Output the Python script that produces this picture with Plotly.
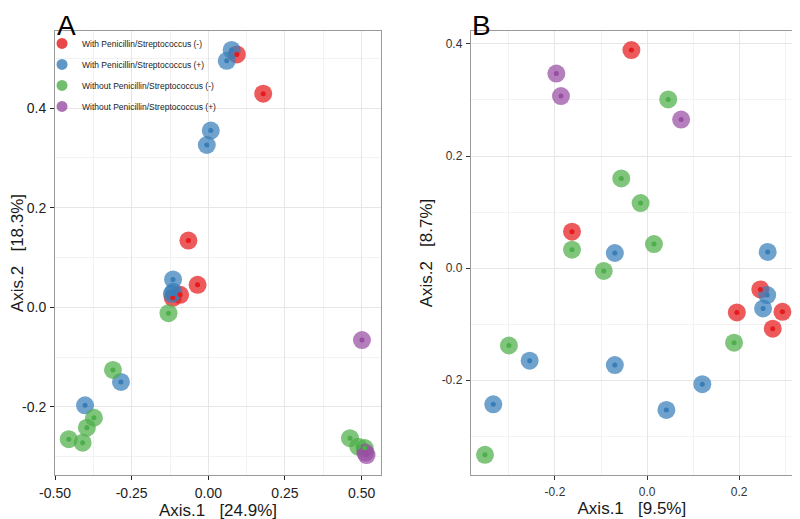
import plotly.graph_objects as go

groups = ["With Penicillin/Streptococcus (-)", "With Penicillin/Streptococcus (+)",
          "Without Penicillin/Streptococcus (-)", "Without Penicillin/Streptococcus (+)"]
colors = ["#E41A1C", "#377EB8", "#4DAF4A", "#984EA3"]

# Panel A (Axis.1 24.9%, Axis.2 18.3%)
a_red_x = [0.093, 0.179, -0.065, -0.035, -0.092, -0.116]
a_red_y = [0.508, 0.429, 0.134, 0.045, 0.025, 0.019]
a_blue_x = [0.076, 0.060, 0.008, -0.005, -0.115, -0.119, -0.114, -0.285, -0.402]
a_blue_y = [0.517, 0.495, 0.355, 0.326, 0.056, 0.027, 0.031, -0.150, -0.197]
a_green_x = [-0.130, -0.311, -0.373, -0.396, -0.455, -0.410, 0.462, 0.489, 0.510]
a_green_y = [-0.012, -0.126, -0.222, -0.242, -0.265, -0.272, -0.263, -0.280, -0.283]
a_purple_x = [0.501, 0.512, 0.516]
a_purple_y = [-0.066, -0.292, -0.297]

# Panel B (Axis.1 9.5%, Axis.2 8.7%)
b_red_x = [-0.034, -0.163, 0.246, 0.195, 0.294, 0.273]
b_red_y = [0.389, 0.065, -0.038, -0.079, -0.078, -0.108]
b_blue_x = [-0.070, 0.262, 0.261, 0.252, -0.255, -0.070, 0.120, -0.334, 0.042]
b_blue_y = [0.027, 0.029, -0.048, -0.072, -0.165, -0.173, -0.207, -0.243, -0.253]
b_green_x = [0.046, -0.056, -0.014, 0.015, -0.163, -0.094, -0.300, 0.189, -0.352]
b_green_y = [0.301, 0.160, 0.116, 0.043, 0.033, -0.005, -0.138, -0.133, -0.333]
b_purple_x = [-0.197, -0.187, 0.074]
b_purple_y = [0.347, 0.307, 0.265]

a_sets = [(a_red_x, a_red_y), (a_blue_x, a_blue_y), (a_green_x, a_green_y), (a_purple_x, a_purple_y)]
b_sets = [(b_red_x, b_red_y), (b_blue_x, b_blue_y), (b_green_x, b_green_y), (b_purple_x, b_purple_y)]

FONT = "Liberation Sans, Arial, sans-serif"
fig = go.Figure()

for sets, xa, ya in [(a_sets, "x", "y"), (b_sets, "x2", "y2")]:
    for (xs, ys), c, g in zip(sets, colors, groups):
        fig.add_trace(go.Scatter(x=xs, y=ys, mode="markers", xaxis=xa, yaxis=ya,
                                 marker=dict(size=18, color=c, opacity=0.72, line=dict(width=0)),
                                 showlegend=False, hoverinfo="skip"))
    for (xs, ys), c, g in zip(sets, colors, groups):
        fig.add_trace(go.Scatter(x=xs, y=ys, mode="markers", xaxis=xa, yaxis=ya,
                                 marker=dict(size=5, color=c, line=dict(width=0)),
                                 showlegend=False, name=g))

# legend entries
for c, g in zip(colors, groups):
    fig.add_trace(go.Scatter(x=[None], y=[None], mode="markers", name=g, legendgroup=g,
                             marker=dict(size=11, color=c, opacity=0.8), showlegend=True))

grid_major = "#e6e6e6"
grid_minor = "#f2f2f2"

def ax(domain, rng, tickvals, ticktext, minor_vals, fs, tickcol, title, anchor, standoff, tls):
    return dict(domain=domain, range=rng, tickmode="array", tickvals=tickvals, ticktext=ticktext,
                showgrid=True, gridcolor=grid_major, gridwidth=1, zeroline=False,
                showline=True, linecolor="#9a9a9a", linewidth=1, mirror=True,
                ticks="outside", ticklen=4, tickcolor=tickcol, tickwidth=1,
                ticklabelstandoff=tls,
                tickfont=dict(size=fs, color=tickcol, family=FONT),
                minor=dict(tickmode="array", tickvals=minor_vals, showgrid=True,
                           gridcolor=grid_minor, gridwidth=1, ticks=""),
                title=dict(text=title, font=dict(size=17, color="#1a1a1a", family=FONT), standoff=standoff),
                anchor=anchor, automargin=False)

fig.update_layout(
    width=800, height=519, margin=dict(l=47, r=15, t=23, b=52, autoexpand=False),
    paper_bgcolor="white", plot_bgcolor="white",
    font=dict(family=FONT),
    xaxis=ax([0.0, 0.4417], [-0.5, 0.563], [-0.5, -0.25, 0, 0.25, 0.5],
             ["-0.50", "-0.25", "0.00", "0.25", "0.50"], [-0.375, -0.125, 0.125, 0.375],
             14, "#222222", "Axis.1   [24.9%]", "y", 0, 1),
    yaxis=ax([0.0, 1.0], [-0.337, 0.555], [-0.2, 0, 0.2, 0.4],
             ["-0.2", "0.0", "0.2", "0.4"], [-0.3, -0.1, 0.1, 0.3, 0.5],
             14, "#222222", "Axis.2   [18.3%]", "x", 4, 1),
    xaxis2=ax([0.5633, 1.0], [-0.383, 0.317], [-0.2, 0, 0.2],
              ["-0.2", "0.0", "0.2"], [-0.3, -0.1, 0.1, 0.3],
              12, "#333333", "Axis.1   [9.5%]", "y2", 0, 2),
    yaxis2=ax([0.0, 1.0], [-0.369, 0.423], [-0.2, 0, 0.2, 0.4],
              ["-0.2", "0.0", "0.2", "0.4"], [-0.3, -0.1, 0.1, 0.3],
              12, "#333333", "Axis.2   [8.7%]", "x2", 4, 1),
    legend=dict(x=-0.0176, y=1.0047, xanchor="left", yanchor="top", bgcolor="rgba(0,0,0,0)",
                font=dict(size=8.5, color="#222222", family=FONT), tracegroupgap=2,
                itemsizing="trace"),
    annotations=[
        dict(text="A", x=0.0, y=1.052, xref="paper", yref="paper", xanchor="left", yanchor="top",
             showarrow=False, font=dict(size=28, color="black", family=FONT)),
        dict(text="B", x=0.563, y=1.052, xref="paper", yref="paper", xanchor="left", yanchor="top",
             showarrow=False, font=dict(size=28, color="black", family=FONT)),
    ],
)

fig.write_html("out.html")
